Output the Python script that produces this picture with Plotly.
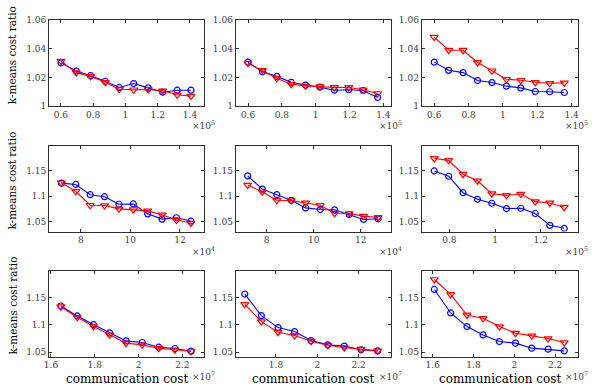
import plotly.graph_objects as go

# x values in displayed units (see exponent label of each panel)
x1 = [0.60, 0.695, 0.784, 0.875, 0.962, 1.051, 1.141, 1.231, 1.321, 1.406]
x2 = [0.60, 0.685, 0.770, 0.855, 0.940, 1.025, 1.110, 1.195, 1.280, 1.366]
x3 = [0.60, 0.684, 0.768, 0.852, 0.936, 1.020, 1.104, 1.188, 1.272, 1.357]
x4 = [7.22, 7.80, 8.38, 8.96, 9.54, 10.12, 10.70, 11.28, 11.86, 12.44]
x5 = [7.19, 7.81, 8.43, 9.04, 9.66, 10.28, 10.89, 11.51, 12.12, 12.74]
x6 = [0.734, 0.797, 0.860, 0.923, 0.986, 1.050, 1.113, 1.176, 1.240, 1.303]
x7 = [1.645, 1.720, 1.794, 1.868, 1.943, 2.017, 2.092, 2.166, 2.240]
x8 = [1.649, 1.729, 1.810, 1.890, 1.970, 2.051, 2.131, 2.212, 2.292]
x9 = [1.608, 1.688, 1.768, 1.847, 1.927, 2.006, 2.086, 2.166, 2.245]

blue1 = [1.0302, 1.0245, 1.0213, 1.0174, 1.0131, 1.0158, 1.0128, 1.0098, 1.0112, 1.0112]
red1 = [1.0314, 1.0234, 1.0208, 1.0167, 1.0119, 1.0115, 1.0117, 1.0108, 1.0080, 1.0071]
blue2 = [1.0307, 1.0240, 1.0208, 1.0167, 1.0147, 1.0133, 1.0112, 1.0115, 1.0110, 1.0062]
red2 = [1.0300, 1.0250, 1.0195, 1.0153, 1.0142, 1.0137, 1.0131, 1.0131, 1.0115, 1.0089]
blue3 = [1.0307, 1.0250, 1.0234, 1.0179, 1.0165, 1.0140, 1.0128, 1.0103, 1.0101, 1.0096]
red3 = [1.0481, 1.0390, 1.0390, 1.0305, 1.0247, 1.0188, 1.0181, 1.0167, 1.0160, 1.0163]
blue4 = [1.1258, 1.1232, 1.1029, 1.0990, 1.0840, 1.0846, 1.0650, 1.0546, 1.0572, 1.0507]
red4 = [1.1265, 1.1095, 1.0820, 1.0814, 1.0748, 1.0735, 1.0709, 1.0631, 1.0526, 1.0467]
blue5 = [1.1402, 1.1140, 1.1029, 1.0918, 1.0768, 1.0735, 1.0729, 1.0637, 1.0539, 1.0552]
red5 = [1.1219, 1.1088, 1.0918, 1.0912, 1.0866, 1.0820, 1.0663, 1.0657, 1.0605, 1.0578]
blue6 = [1.1500, 1.1395, 1.1069, 1.0938, 1.0860, 1.0755, 1.0761, 1.0657, 1.0422, 1.0363]
red6 = [1.1748, 1.1709, 1.1435, 1.1304, 1.1049, 1.1016, 1.1042, 1.0892, 1.0866, 1.0781]
blue7 = [1.1348, 1.1165, 1.1006, 1.0854, 1.0707, 1.0677, 1.0591, 1.0567, 1.0518]
red7 = [1.1335, 1.1140, 1.0976, 1.0817, 1.0665, 1.0634, 1.0573, 1.0543, 1.0512]
blue8 = [1.1567, 1.1171, 1.0951, 1.0878, 1.0713, 1.0634, 1.0610, 1.0543, 1.0524]
red8 = [1.1378, 1.1061, 1.0866, 1.0805, 1.0701, 1.0628, 1.0585, 1.0555, 1.0524]
blue9 = [1.1652, 1.1220, 1.0970, 1.0817, 1.0695, 1.0665, 1.0573, 1.0555, 1.0524]
red9 = [1.1835, 1.1560, 1.1183, 1.1122, 1.0970, 1.0848, 1.0799, 1.0750, 1.0677]

xs = [x1, x2, x3, x4, x5, x6, x7, x8, x9]
blues = [blue1, blue2, blue3, blue4, blue5, blue6, blue7, blue8, blue9]
reds = [red1, red2, red3, red4, red5, red6, red7, red8, red9]
exponents = ["5", "5", "5", "4", "4", "5", "7", "7", "7"]

xranges = [[0.526, 1.487], [0.527, 1.445], [0.527, 1.435],
           [6.72, 12.97], [6.68, 13.29], [0.679, 1.362],
           [1.591, 2.299], [1.605, 2.357], [1.546, 2.311]]
xticks = [[0.6, 0.8, 1, 1.2, 1.4]] * 3 + [[8, 10, 12], [8, 10, 12], [0.8, 1, 1.2]] + [[1.6, 1.8, 2, 2.2]] * 3
yranges = [[1, 1.06]] * 3 + [[1.03, 1.2]] * 3 + [[1.042, 1.2]] * 3
yticks = [[1, 1.02, 1.04, 1.06]] * 3 + [[1.05, 1.1, 1.15]] * 6

W, H = 608, 389
col_px = [(49, 204), (235.7, 391), (421.7, 577.7)]
row_px = [(20, 106.3), (145.7, 231.5), (270.5, 356.5)]

FONT = "DejaVu Serif"
AX = "#303030"

fig = go.Figure()
annotations = []
for i in range(9):
    r, c = divmod(i, 3)
    n = i + 1
    sfx = "" if n == 1 else str(n)
    fig.add_trace(go.Scatter(x=xs[i], y=blues[i], mode="lines+markers",
                             line=dict(color="#0000ff", width=1.1),
                             marker=dict(symbol="circle-open", size=6, color="#0000ff", line=dict(width=1.2)),
                             xaxis="x" + sfx, yaxis="y" + sfx, showlegend=False))
    fig.add_trace(go.Scatter(x=xs[i], y=reds[i], mode="lines+markers",
                             line=dict(color="#ff0000", width=1.1),
                             marker=dict(symbol="triangle-down-open", size=7, color="#ff0000", line=dict(width=1.2)),
                             xaxis="x" + sfx, yaxis="y" + sfx, showlegend=False))
    x0, x1p = col_px[c]
    y0, y1p = row_px[r]
    common = dict(showline=True, mirror="ticks", linecolor=AX, linewidth=1, automargin=False,
                  ticks="inside", ticklen=3, tickcolor=AX, showgrid=False, zeroline=False,
                  tickfont=dict(family=FONT, size=9, color="#404040"))
    fig.update_layout(**{
        "xaxis" + sfx: dict(domain=[x0 / W, x1p / W], range=xranges[i], tickvals=xticks[i],
                            anchor="y" + sfx, **common),
        "yaxis" + sfx: dict(domain=[1 - y1p / H, 1 - y0 / H], range=yranges[i], tickvals=yticks[i],
                            anchor="x" + sfx, **common),
    })
    annotations.append(dict(text="×10<sup>" + exponents[i] + "</sup>", xref="paper", yref="paper",
                            x=(x1p - 1) / W, y=1 - (y1p + 19) / H, showarrow=False,
                            xanchor="center", yanchor="middle",
                            font=dict(family=FONT, size=9, color="#404040")))

for r in range(3):
    y0, y1p = row_px[r]
    annotations.append(dict(text="k-means cost ratio", xref="paper", yref="paper",
                            x=12 / W, y=1 - ((y0 + y1p) / 2 - 8) / H, textangle=-90,
                            showarrow=False, xanchor="center", yanchor="middle",
                            font=dict(family=FONT, size=10.5, color="#000000")))
for c in range(3):
    x0, x1p = col_px[c]
    annotations.append(dict(text="communication cost", xref="paper", yref="paper",
                            x=(x0 + x1p) / 2 / W, y=1 - 379 / H, showarrow=False,
                            xanchor="center", yanchor="middle",
                            font=dict(family=FONT, size=12, color="#000000")))

fig.update_layout(width=W, height=H, margin=dict(l=0, r=0, t=0, b=0),
                  plot_bgcolor="white", paper_bgcolor="white", annotations=annotations)

# the page's default body margin would push the figure 8px down and right
fig.write_html("out.html", config={"displayModeBar": False},
               post_script="document.body.style.margin='0';")
